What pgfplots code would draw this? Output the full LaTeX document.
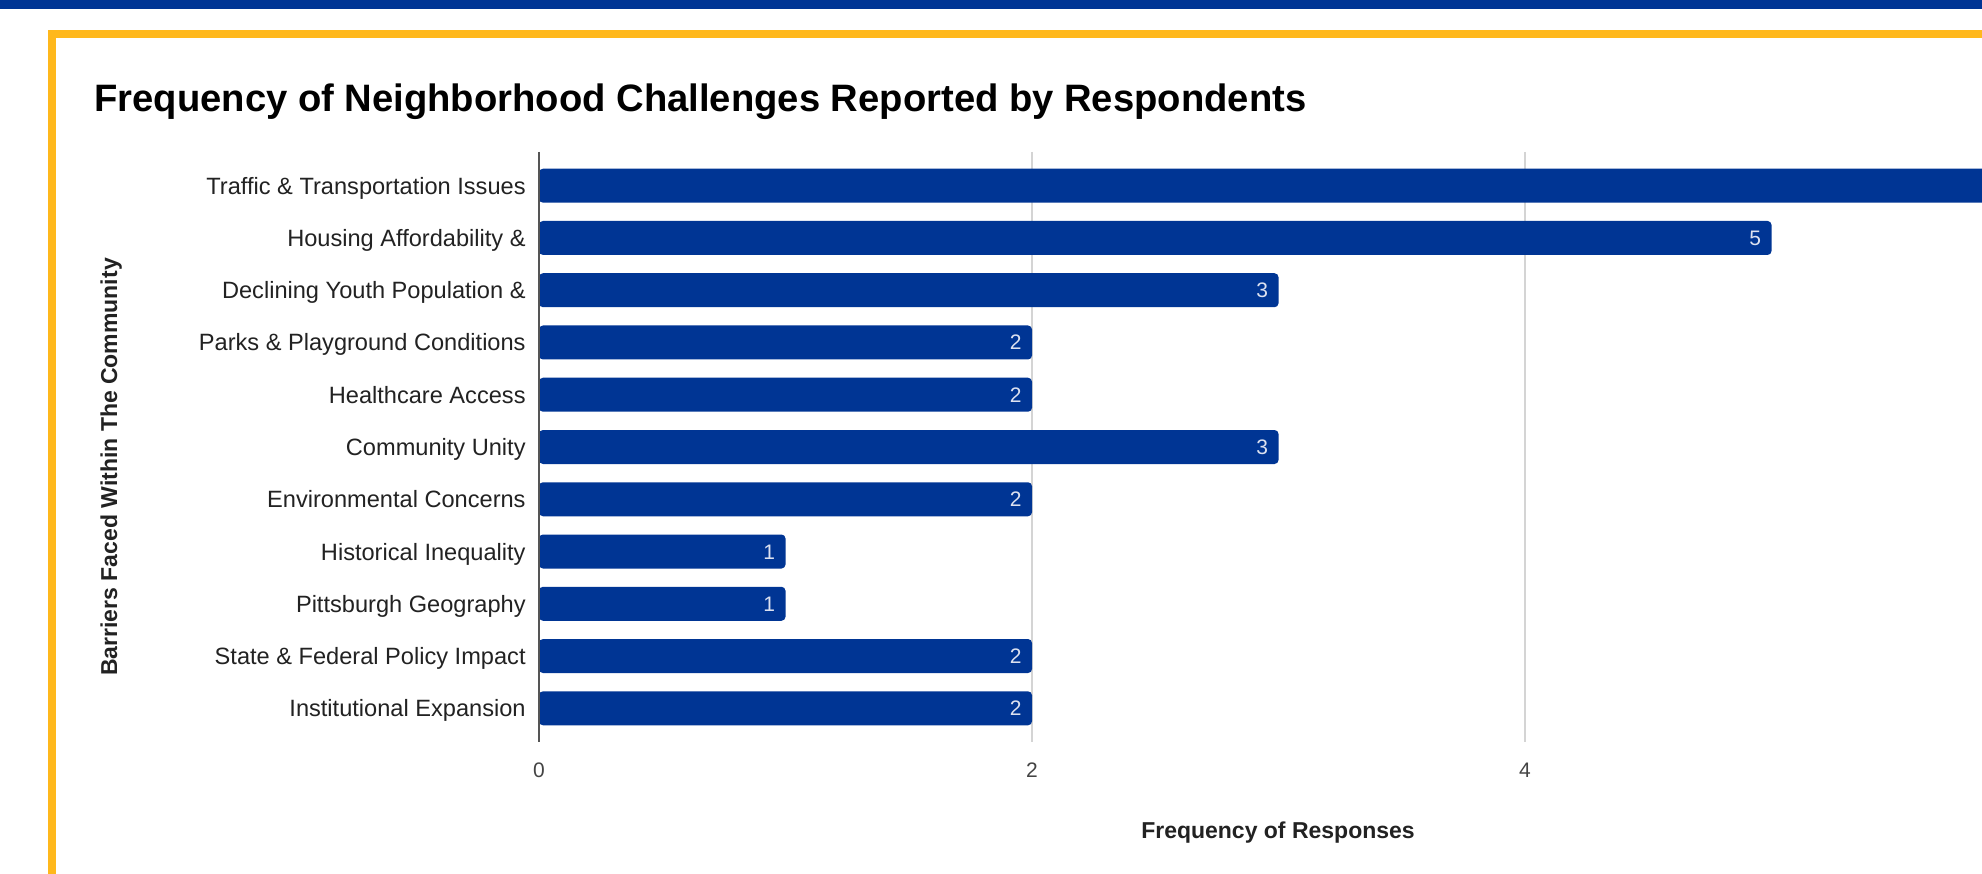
\documentclass[border=0pt]{standalone}
\usepackage{fontspec}
\setmainfont{Liberation Sans}
\usepackage{pgfplots}
\pgfplotsset{compat=1.18}
\definecolor{pittblue}{HTML}{003594}
\definecolor{pittgold}{HTML}{FFB81C}
\definecolor{gridgray}{HTML}{D4D4D4}
\definecolor{axisgray}{HTML}{555555}
\definecolor{labelgray}{HTML}{222222}
\definecolor{tickgray}{HTML}{444444}
\definecolor{valcol}{HTML}{DCE1F0}
\begin{document}
\begin{tikzpicture}[x=0.5bp,y=0.5bp]
\begin{scope}
\clip (0,0) rectangle (1982,873);
\fill[white] (0,0) rectangle (1982,873);
\fill[pittblue] (0,863.5) rectangle (1982,873);
\fill[pittgold] (48,-20) rectangle (2100,843);
\fill[white] (55.5,-20) rectangle (2100,835);
\node[anchor=base west, inner sep=0, font=\fontsize{19.1bp}{22bp}\selectfont\bfseries] at (94,761) {Frequency of Neighborhood Challenges Reported by Respondents};
\node[anchor=base, inner sep=0, rotate=90, text=labelgray, font=\fontsize{11.5bp}{14bp}\selectfont\bfseries] at (117,406) {Barriers Faced Within The Community};
\node[anchor=base, inner sep=0, text=labelgray, font=\fontsize{11.5bp}{14bp}\selectfont\bfseries] at (1278,35) {Frequency of Responses};
\coordinate (O) at (539,131);
\begin{axis}[
  at={(O)}, anchor=south west,
  scale only axis, width=739.5bp, height=295bp,
  xbar, bar width=17bp,
  xmin=0, xmax=6, ymin=-0.645, ymax=10.645,
  y dir=reverse,
  ytick={0,...,10},
  yticklabels={Traffic \& Transportation Issues, Housing Affordability \&, Declining Youth Population \&, Parks \& Playground Conditions, Healthcare Access, Community Unity, Environmental Concerns, Historical Inequality, Pittsburgh Geography, State \& Federal Policy Impact, Institutional Expansion},
  xtick={0,2,4},
  xmajorgrids, grid style={gridgray, line width=0.8bp},
  axis line style={draw=none},
  major tick length=0,
  /pgf/number format/assume math mode=true,
  yticklabel style={anchor=base east, inner sep=0, xshift=-6.5bp, yshift=-4.25bp, text=labelgray, font=\fontsize{11.8bp}{14bp}\selectfont},
  xticklabel style={anchor=base, inner sep=0, yshift=-17.5bp, text=tickgray, font=\fontsize{10.5bp}{12bp}\selectfont},
  clip=false,
]
\addplot[fill=pittblue, draw=none, rounded corners=2bp,
  point meta=explicit symbolic,
  nodes near coords,
  every node near coord/.append style={anchor=base east, xshift=-5bp, yshift=-3.75bp, inner sep=0, text=valcol, font=\fontsize{10.5bp}{12bp}\selectfont}]
  coordinates {(6,0) [{}] (5,1) [5] (3,2) [3] (2,3) [2] (2,4) [2] (3,5) [3] (2,6) [2] (1,7) [1] (1,8) [1] (2,9) [2] (2,10) [2]};
\draw[axisgray, line width=0.9bp] (axis cs:0,-0.645) -- (axis cs:0,10.645);
\end{axis}
\end{scope}
\pgfresetboundingbox
\path[use as bounding box] (0,0) rectangle (1982,873);
\end{tikzpicture}
\end{document}
